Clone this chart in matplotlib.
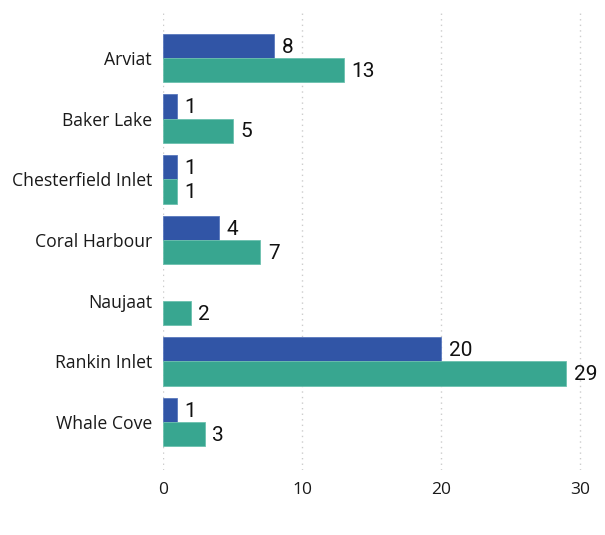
import matplotlib
matplotlib.use("Agg")
import matplotlib.pyplot as plt
import numpy as np

categories = ["Arviat", "Baker Lake", "Chesterfield Inlet", "Coral Harbour", "Naujaat", "Rankin Inlet", "Whale Cove"]
series_a = [8, 1, 1, 4, None, 20, 1]
series_b = [13, 5, 1, 7, 2, 29, 3]
xticks = [0, 10, 20, 30]

blue = "#3155a6"
teal = "#38a690"

fig = plt.figure(figsize=(6.05, 5.35), dpi=100)
ax = fig.add_axes([0.2694, 0.1215, 0.7124, 0.8598])

y = np.arange(len(categories))
h = 0.4
lab_font = dict(fontsize=15, family="Roboto", color="#111111")
for i, (a, b) in enumerate(zip(series_a, series_b)):
    if a is not None:
        ax.barh(y[i] - h / 2, a, height=h, color=blue, edgecolor="#5a78bd", linewidth=0.6)
        ax.text(a + 0.55, y[i] - h / 2 + 0.02, str(a), va="center", ha="left", **lab_font)
    ax.barh(y[i] + h / 2, b, height=h, color=teal, edgecolor="#6cc1ae", linewidth=0.6)
    ax.text(b + 0.55, y[i] + h / 2 + 0.02, str(b), va="center", ha="left", **lab_font)

ax.set_ylim(len(categories) - 1 + 0.79, -0.79)
ax.set_xlim(0, 31)
ax.set_yticks(y)
ax.set_yticklabels(categories, fontsize=12.7, family="Open Sans", color="#1a1a1a")
ax.set_xticks(xticks)
ax.set_xticklabels([str(t) for t in xticks], fontsize=12.5, family="Open Sans", color="#1a1a1a")
ax.tick_params(axis="both", length=0)
ax.tick_params(axis="x", pad=9)
ax.tick_params(axis="y", pad=8)
for s in ax.spines.values():
    s.set_visible(False)
ax.set_axisbelow(True)
ax.xaxis.grid(True, linestyle=(0, (1, 3)), color="#cccccc", linewidth=1)

fig.savefig("out.png", dpi=100)
